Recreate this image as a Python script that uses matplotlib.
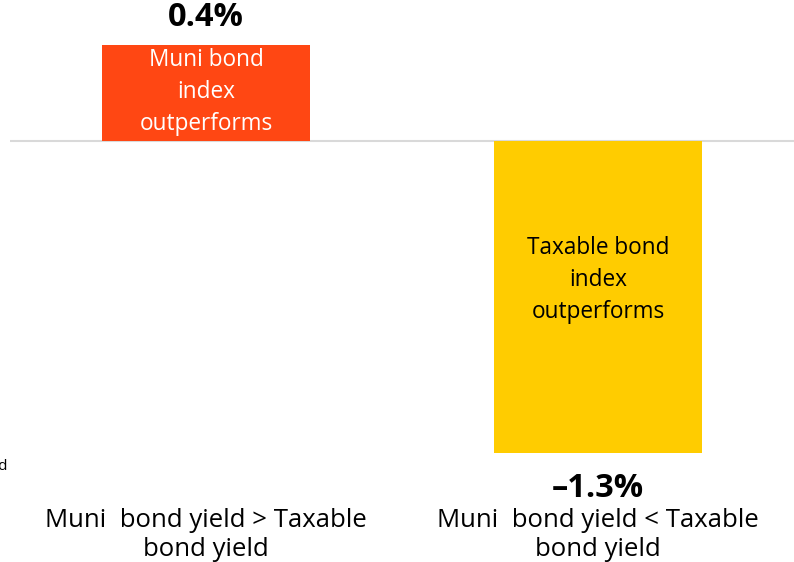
import matplotlib
matplotlib.use("Agg")
import matplotlib.pyplot as plt

# datos del grafico
categorias = ["Muni  bond yield > Taxable\nbond yield", "Muni  bond yield < Taxable\nbond yield"]
valores = [0.4, -1.3]
etiquetas_valor = ["0.4%", "\u20131.3%"]
textos_barra = ["Muni bond\nindex\noutperforms", "Taxable bond\nindex\noutperforms"]
colores = ["#FF4713", "#FFCC00"]

plt.rcParams["font.family"] = ["Open Sans", "DejaVu Sans"]

fig = plt.figure(figsize=(7.94, 5.62), dpi=100)
# ejes colocados a mano para que las barras queden donde en la referencia
ax = fig.add_axes([10 / 794, 109 / 562, 784 / 794, 408 / 562])

x = list(range(len(valores)))
ax.bar(x, valores, width=0.53, color=colores, zorder=2)
ax.axhline(0, color="#D9D9D9", lw=1.5, zorder=1)

ax.set_xlim(-0.5, 1.5)
ax.set_ylim(-1.3, 0.4)
ax.axis("off")

# textos dentro de las barras
pos_texto = [0.204, -0.578]
color_texto = ["white", "black"]
for i in x:
    ax.text(i, pos_texto[i], textos_barra[i], ha="center", va="center",
            fontsize=16.3, color=color_texto[i], linespacing=1.45, zorder=3)

# etiquetas de valor
pos_valor = [0.5125, -1.446]
for i in x:
    ax.text(i, pos_valor[i], etiquetas_valor[i], ha="center", va="center",
            fontsize=23.5, fontweight="bold", color="black", clip_on=False)

# etiquetas de categoria
for i in x:
    fig.text((10 + 392 * (i + 0.5)) / 794, 1 - 535 / 562, categorias[i],
             ha="center", va="center", fontsize=18.5, linespacing=1.25)

# texto cortado en el borde izquierdo
fig.text(8 / 794, 1 - 466 / 562, "Returned", ha="right", va="center", fontsize=11)

fig.savefig("out.png", dpi=100)
